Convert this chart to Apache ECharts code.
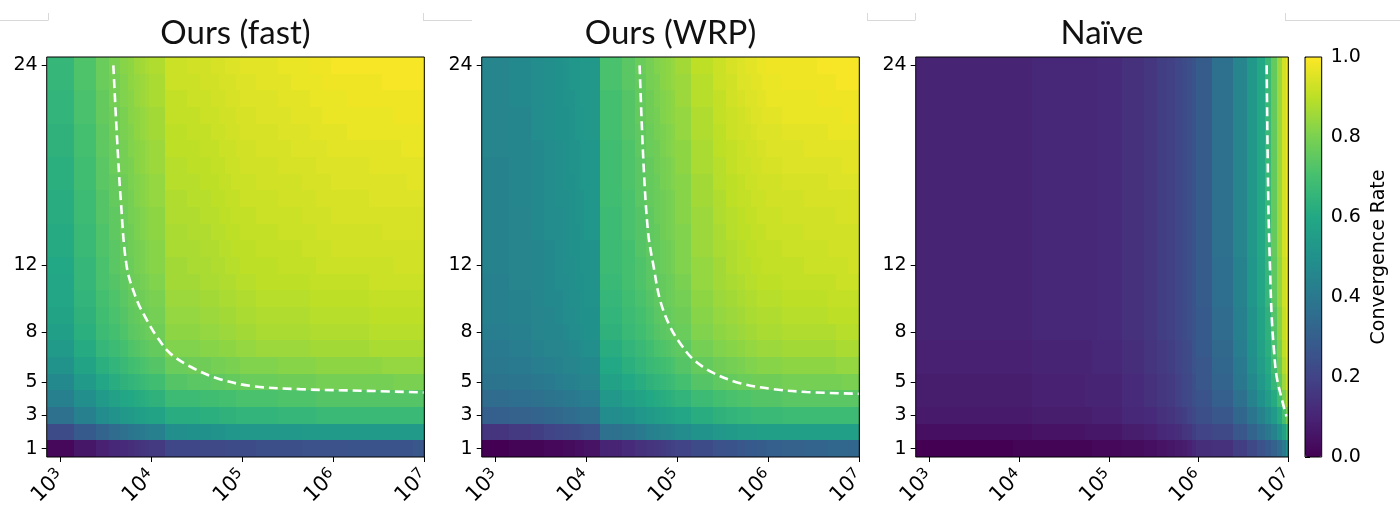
<!DOCTYPE html>
<html>
<head>
<meta charset="utf-8">
<script src="https://cdn.jsdelivr.net/npm/echarts@6/dist/echarts.min.js"></script>
<style>
html,body{margin:0;padding:0;background:#fff;}
#chart{width:1400px;height:517px;}
</style>
</head>
<body>
<div id="chart"></div>
<script>
// ---------------- data ----------------
const TITLES = ['Ours (fast)', 'Ours (WRP)', 'Naïve'];
const SAMPLES = [1e3,2e3,3e3,4e3,5e3,6e3,7e3,8e3,9e3,1e4,
  2e4,3e4,4e4,5e4,6e4,7e4,8e4,9e4,1e5,
  2e5,3e5,4e5,5e5,6e5,7e5,8e5,9e5,1e6,
  2e6,3e6,4e6,5e6,6e6,7e6,8e6,9e6,1e7];
const Y_TICKS = [1, 3, 5, 8, 12, 24];
const X_TICK_EXP = [3, 4, 5, 6, 7];
const CBAR_NAME = 'Convergence Rate';

// convergence rate in percent; rows listed from row 1 (bottom) to row 24 (top)
const RATE_FAST = [
[2,6,9,11,12,13,14,15,16,17, 21,21,22,22,22,23,23,23,23, 24,24,24,25,25,25,25,25,25, 26,26,26,26,26,26,27,27,27],
[23,28,32,35,37,39,40,41,42,43, 49,50,50,51,51,52,52,52,53, 53,53,53,54,54,54,54,54,54, 54,54,54,54,54,54,54,54,54],
[37,43,48,51,53,54,55,56,57,58, 62,62,63,63,64,64,64,65,65, 65,66,66,66,66,67,67,67,67, 67,67,67,67,67,67,67,67,67],
[43,49,54,57,59,60,61,62,63,64, 68,68,69,69,70,70,70,71,71, 71,72,72,72,72,73,73,73,73, 73,73,73,73,73,73,73,73,73],
[47,54,59,62,64,65,66,67,68,69, 73,74,74,75,75,76,76,76,77, 77,78,78,78,78,79,79,79,79, 79,79,79,80,80,80,80,80,80],
[51,58,63,65,67,69,70,71,72,73, 77,78,78,79,79,80,80,80,81, 81,82,82,82,82,83,83,83,83, 83,83,84,84,84,84,84,84,84],
[54,61,66,68,70,72,73,74,75,76, 81,81,82,82,83,83,83,84,84, 85,85,85,85,86,86,86,86,86, 86,87,87,87,87,87,87,87,87],
[56,63,68,70,72,74,75,76,77,78, 83,83,84,84,85,85,85,86,86, 87,87,87,87,88,88,88,88,88, 88,89,89,89,89,89,89,89,89],
[58,64,69,71,73,75,76,77,78,79, 84,84,85,85,86,86,86,87,87, 88,88,88,88,89,89,89,89,89, 89,90,90,90,90,90,90,90,90],
[59,65,70,72,74,76,77,78,79,80, 85,85,86,86,87,87,87,88,88, 89,89,89,89,90,90,90,90,90, 90,91,91,91,91,91,91,91,91],
[59,66,71,73,75,77,78,79,80,81, 86,86,87,87,88,88,88,89,89, 90,90,90,90,91,91,91,91,91, 91,92,92,92,92,92,92,92,92],
[60,66,71,74,76,77,79,80,81,82, 86,87,87,88,88,89,89,89,90, 90,91,91,91,91,92,92,92,92, 92,92,92,93,93,93,93,93,93],
[61,67,72,74,76,78,79,80,81,82, 87,87,88,88,89,89,90,90,90, 91,91,91,92,92,92,92,92,93, 93,93,93,93,93,93,93,93,93],
[61,67,72,75,77,78,80,81,82,83, 87,88,88,89,89,90,90,90,91, 91,92,92,92,92,93,93,93,93, 93,93,94,94,94,94,94,94,94],
[62,68,73,75,77,79,80,81,82,83, 88,88,89,89,90,90,91,91,91, 92,92,92,93,93,93,93,93,94, 94,94,94,94,94,94,94,94,94],
[62,68,73,76,78,79,81,82,83,84, 88,89,89,90,90,91,91,91,92, 92,93,93,93,93,94,94,94,94, 94,95,95,95,95,95,95,95,95],
[63,69,74,76,78,80,81,82,83,84, 89,89,90,90,91,91,92,92,92, 93,93,93,94,94,94,94,94,95, 95,95,95,95,95,96,96,96,96],
[63,69,74,77,79,80,82,83,84,85, 89,90,90,91,91,92,92,92,93, 93,94,94,94,94,95,95,95,95, 95,96,96,96,96,96,96,96,96],
[64,70,75,77,79,81,82,83,84,85, 90,90,91,91,92,92,92,93,93, 94,94,95,95,95,95,95,96,96, 96,96,96,96,97,97,97,97,97],
[64,70,75,78,80,81,83,84,85,86, 90,91,91,92,92,93,93,93,94, 94,95,95,95,96,96,96,96,96, 97,97,97,97,97,97,97,97,97],
[65,71,76,78,80,82,83,84,85,86, 91,91,92,92,93,93,93,94,94, 95,95,96,96,96,96,97,97,97, 97,97,97,98,98,98,98,98,98],
[65,71,76,79,81,82,84,85,86,87, 91,92,92,93,93,94,94,94,95, 95,96,96,96,97,97,97,97,97, 98,98,98,98,98,98,98,98,98],
[66,72,77,79,81,83,84,85,86,87, 92,92,93,93,94,94,94,95,95, 96,96,97,97,97,97,98,98,98, 98,98,99,99,99,99,99,99,99],
[66,72,77,80,82,83,85,86,87,88, 92,93,93,94,94,95,95,95,96, 96,97,97,97,98,98,98,98,99, 99,99,99,99,99,99,99,99,99]
];

const RATE_WRP = [
[0,1,1,2,2,3,3,4,4,5, 10,12,14,15,16,17,18,19,20, 23,25,26,27,28,28,29,29,30, 31,32,32,33,33,33,33,33,33],
[15,17,18,20,21,22,23,23,24,25, 37,39,41,43,44,45,46,47,48, 51,53,54,55,55,55,56,56,56, 56,56,56,56,56,56,56,56,56],
[30,31,32,33,34,35,35,36,37,37, 48,50,52,54,55,56,57,58,59, 62,64,65,66,66,67,67,67,67, 68,68,68,68,68,68,68,68,68],
[35,36,37,38,39,40,40,41,42,42, 53,56,58,60,61,62,63,64,65, 68,70,71,72,72,73,73,73,73, 74,74,74,74,74,74,74,74,74],
[38,39,40,41,42,43,43,44,45,45, 57,60,62,64,65,66,67,68,70, 73,75,76,77,77,78,78,78,78, 79,79,79,79,79,80,80,80,80],
[40,41,42,43,44,45,45,46,47,47, 60,63,65,67,68,69,70,71,73, 76,78,79,80,81,81,82,82,82, 83,83,83,83,84,84,84,84,84],
[41,42,44,45,45,46,47,47,48,49, 62,65,67,69,71,72,73,74,75, 79,81,82,83,84,84,85,85,85, 86,86,86,86,87,87,87,87,87],
[42,43,45,46,46,47,48,48,49,50, 64,67,69,71,73,74,75,76,77, 81,83,84,85,86,86,87,87,87, 88,88,88,88,89,89,89,89,89],
[43,44,45,46,47,48,48,49,50,50, 65,68,70,72,74,75,76,77,78, 82,84,85,86,87,87,88,88,88, 89,89,89,90,90,90,90,90,90],
[43,44,46,47,47,48,49,49,50,51, 66,69,71,73,75,76,77,78,79, 83,85,86,87,88,88,89,89,89, 90,90,90,91,91,91,91,91,91],
[43,45,46,47,48,48,49,50,50,51, 67,70,72,74,75,76,77,78,80, 84,86,87,88,89,89,90,90,90, 91,91,91,91,92,92,92,92,92],
[44,45,46,47,48,49,49,50,51,51, 68,70,72,74,76,77,78,79,81, 84,86,88,89,89,90,90,91,91, 91,92,92,92,92,92,93,93,93],
[44,45,46,47,48,49,50,50,51,51, 68,70,73,75,76,77,78,79,81, 85,87,88,89,90,90,91,91,91, 92,92,92,93,93,93,93,93,93],
[44,45,47,48,48,49,50,50,51,52, 68,71,73,75,76,78,79,80,81, 85,87,89,90,90,91,91,91,92, 92,93,93,93,93,93,93,93,93],
[44,45,47,48,48,49,50,51,51,52, 68,71,73,75,77,78,79,80,82, 85,88,89,90,91,91,92,92,92, 93,93,93,93,94,94,94,94,94],
[44,46,47,48,49,49,50,51,51,52, 69,71,74,76,77,78,79,80,82, 86,88,90,91,91,92,92,92,93, 93,94,94,94,94,94,94,94,94],
[44,46,47,48,49,50,50,51,52,52, 69,72,74,76,77,79,80,81,82, 86,89,90,91,92,92,93,93,93, 94,94,94,95,95,95,95,95,95],
[44,46,47,48,49,50,51,51,52,52, 69,72,74,76,78,79,80,81,83, 87,89,91,92,92,93,93,94,94, 95,95,95,95,95,96,96,96,96],
[45,46,47,48,49,50,51,51,52,52, 69,72,75,77,78,80,81,82,83, 87,90,91,92,93,93,94,94,95, 95,96,96,96,96,96,96,96,96],
[45,46,48,49,50,50,51,52,52,53, 70,73,75,77,79,80,81,82,84, 88,90,92,93,93,94,95,95,95, 96,96,96,97,97,97,97,97,97],
[45,46,48,49,50,50,51,52,52,53, 70,73,76,78,79,81,82,83,84, 88,91,92,93,94,95,95,96,96, 97,97,97,97,97,98,98,98,98],
[45,47,48,49,50,51,51,52,53,53, 70,73,76,78,80,81,82,83,85, 89,91,93,94,95,95,96,96,97, 97,97,98,98,98,98,98,98,98],
[45,47,48,49,50,51,52,52,53,53, 71,74,76,79,80,82,83,84,85, 89,92,93,95,95,96,96,97,97, 98,98,98,98,99,99,99,99,99],
[45,47,48,49,50,51,52,52,53,53, 71,74,77,79,81,82,83,84,86, 90,92,94,95,96,96,97,97,98, 98,98,99,99,99,99,99,99,99]
];

const RATE_NAIVE = [
[0,0,0,0,0,0,0,0,1,1, 1,1,1,1,1,2,2,2,2, 3,4,5,6,7,8,9,11,13, 14,18,22,25,28,31,35,41,50],
[4,4,4,4,4,4,4,4,4,4, 5,5,5,5,6,6,6,6,6, 8,9,11,12,13,15,16,18,20, 22,27,32,36,40,44,50,57,66],
[7,7,7,7,7,7,7,7,7,7, 8,8,8,8,8,9,9,9,9, 11,12,14,15,17,18,20,22,24, 27,33,39,44,49,54,61,70,80],
[8,8,8,8,8,8,8,8,8,8, 9,9,9,9,10,10,10,10,10, 12,14,16,17,19,21,22,24,26, 30,37,44,50,55,61,69,79,88],
[8,8,8,8,8,8,8,8,8,8, 9,9,9,9,10,10,10,10,10, 12,14,16,17,19,21,22,24,27, 32,40,47,53,59,66,75,85,92],
[9,9,9,9,9,9,9,9,9,9, 10,10,10,10,10,11,11,11,11, 13,15,17,18,20,22,23,25,27, 33,41,49,55,61,69,78,88,94],
[9,9,9,9,9,9,9,9,9,9, 10,10,10,10,10,11,11,11,11, 13,15,17,18,20,22,23,25,28, 34,42,50,57,63,71,80,90,95],
[10,10,10,10,10,10,10,10,10,10, 11,11,11,11,11,11,12,12,12, 14,16,18,19,21,23,24,26,28, 35,43,51,58,64,73,82,91,96],
[10,10,10,10,10,10,10,10,10,10, 11,11,11,11,11,11,12,12,12, 14,16,18,19,21,23,24,26,28, 35,43,51,58,64,73,82,91,96],
[10,10,10,10,10,10,10,10,10,10, 11,11,11,11,11,11,12,12,12, 14,16,18,19,21,23,24,26,29, 36,44,52,59,66,75,84,92,96],
[10,10,10,10,10,10,10,10,10,10, 11,11,11,11,11,11,12,12,12, 14,16,18,19,21,23,24,26,29, 36,44,52,59,66,75,84,92,96],
[10,10,10,10,10,10,10,10,10,10, 11,11,11,11,11,11,12,12,12, 14,16,18,19,21,23,24,26,29, 36,44,52,59,66,75,84,92,96],
[10,10,10,10,10,10,10,10,10,10, 11,11,11,11,11,11,12,12,12, 14,16,18,19,21,23,24,26,29, 37,45,53,60,67,76,85,93,97],
[10,10,10,10,10,10,10,10,10,10, 11,11,11,11,11,11,12,12,12, 14,16,18,19,21,23,24,26,29, 37,45,53,60,67,76,85,93,97],
[10,10,10,10,10,10,10,10,10,10, 11,11,11,11,11,11,12,12,12, 14,16,18,19,21,23,24,26,29, 37,45,53,60,67,76,85,93,97],
[10,10,10,10,10,10,10,10,10,10, 11,11,11,11,11,11,12,12,12, 14,16,18,19,21,23,24,26,29, 37,45,53,60,67,76,85,93,97],
[10,10,10,10,10,10,10,10,10,10, 11,11,11,11,11,11,12,12,12, 14,16,18,19,21,23,24,26,29, 37,45,53,60,67,76,85,93,97],
[10,10,10,10,10,10,10,10,10,10, 11,11,11,11,11,11,12,12,12, 14,16,18,19,21,23,24,26,29, 37,45,53,60,67,76,85,93,97],
[10,10,10,10,10,10,10,10,10,10, 11,11,11,11,11,11,12,12,12, 14,16,18,19,21,23,24,26,29, 37,45,53,60,67,76,85,93,97],
[10,10,10,10,10,10,10,10,10,10, 11,11,11,11,11,11,12,12,12, 14,16,18,19,21,23,24,26,29, 37,45,53,60,67,76,85,93,97],
[10,10,10,10,10,10,10,10,10,10, 11,11,11,11,11,11,12,12,12, 14,16,18,19,21,23,24,26,29, 37,45,53,60,67,76,85,93,97],
[10,10,10,10,10,10,10,10,10,10, 11,11,11,11,11,11,12,12,12, 14,16,18,19,21,23,24,26,29, 37,45,53,60,67,76,85,93,97],
[10,10,10,10,10,10,10,10,10,10, 11,11,11,11,11,11,12,12,12, 14,16,18,19,21,23,24,26,29, 37,45,53,60,67,76,85,93,97],
[10,10,10,10,10,10,10,10,10,10, 11,11,11,11,11,11,12,12,12, 14,16,18,19,21,23,24,26,29, 37,45,53,60,67,76,85,93,97]
];

// dashed threshold curves: [log10(samples), row]
const CURVE_FAST = [[3.582,24],[3.62,19.9],[3.664,15.9],[3.73,11.9],[3.84,9.92],[3.95,8.72],[4.06,7.72],[4.205,6.73],[4.425,5.93],[4.72,5.23],[5.085,4.77],[5.63,4.57],[6.37,4.47],[7.0,4.37]];
const CURVE_WRP = [[4.585,24],[4.63,17.9],[4.68,13.9],[4.74,11.9],[4.81,9.92],[4.92,8.32],[5.03,7.33],[5.18,6.33],[5.40,5.53],[5.69,4.93],[6.06,4.57],[6.42,4.40],[7.0,4.29]];
const CURVE_NAIVE = [[6.759,24],[6.777,15.9],[6.796,11.9],[6.815,8.92],[6.84,6.93],[6.87,5.33],[6.93,3.93],[6.98,2.93]];

const VIRIDIS = ['#440154','#482475','#414487','#355f8d','#2a788e','#21918c','#22a884','#44bf70','#7ad151','#bddf26','#fde725'];

// ---------------- build ----------------
const LOGX = SAMPLES.map(v => Math.log10(v));
const EDGES = [];
EDGES.push(LOGX[0] - (LOGX[1] - LOGX[0]) / 2);
for (let i = 0; i < LOGX.length - 1; i++) EDGES.push((LOGX[i] + LOGX[i + 1]) / 2);
EDGES.push(LOGX[LOGX.length - 1] + (LOGX[LOGX.length - 1] - LOGX[LOGX.length - 2]) / 2);
const XMIN = EDGES[0];

function cells(rate) {
  const out = [];
  rate.forEach((row, r) => {
    row.forEach((v, i) => out.push([EDGES[i], EDGES[i + 1], r + 1, v / 100]));
  });
  return out;
}
const RATES = [RATE_FAST, RATE_WRP, RATE_NAIVE];
const CURVES = [CURVE_FAST, CURVE_WRP, CURVE_NAIVE];

const FONT = 'DejaVu Sans';
const FS = 19;
const GRIDS = [
  {left: 46.7, top: 57, width: 377.6, height: 400},
  {left: 481.7, top: 57, width: 377.6, height: 400},
  {left: 915.7, top: 57, width: 372.6, height: 400}
];

const grid = GRIDS.map(g => Object.assign({show: true, borderColor: '#000', borderWidth: 1, backgroundColor: 'rgba(0,0,0,0)', z: 6}, g));
grid.push({left: 1305, top: 57, width: 16.7, height: 400, show: true, borderColor: '#000', borderWidth: 1, backgroundColor: 'rgba(0,0,0,0)', z: 6});

const xAxis = GRIDS.map((g, i) => ({
  gridIndex: i, type: 'value', min: XMIN, max: 7, z: 7,
  axisLine: {show: false}, splitLine: {show: false},
  axisTick: {show: true, customValues: X_TICK_EXP, length: 5, lineStyle: {color: '#000', width: 1}},
  axisLabel: {customValues: X_TICK_EXP, rotate: 45, margin: 16, fontSize: 21, color: '#000', fontFamily: FONT,
    formatter: v => '{n|10}{s|' + Math.round(v) + '}',
    rich: {
      n: {fontSize: 21, fontFamily: FONT, color: '#000', lineHeight: 22, verticalAlign: 'bottom'},
      s: {fontSize: 15, fontFamily: FONT, color: '#000', lineHeight: 14, verticalAlign: 'top'}
    }}
}));
xAxis.push({gridIndex: 3, type: 'value', min: 0, max: 1, show: false});

const yAxis = GRIDS.map((g, i) => ({
  gridIndex: i, type: 'value', min: 0.5, max: 24.5,
  axisLine: {show: false}, splitLine: {show: false},
  axisTick: {show: true, customValues: Y_TICKS, length: 5, lineStyle: {color: '#000', width: 1}},
  axisLabel: {customValues: Y_TICKS, margin: 9, fontSize: FS, color: '#000', fontFamily: FONT}
}));
yAxis.push({
  gridIndex: 3, type: 'value', position: 'right', min: 0, max: 1, interval: 0.2,
  axisLine: {show: false}, splitLine: {show: false},
  axisTick: {show: true, length: 5, lineStyle: {color: '#000', width: 1}},
  axisLabel: {margin: 9, fontSize: FS, color: '#000', fontFamily: FONT, formatter: v => v.toFixed(1)},
  name: CBAR_NAME, nameLocation: 'middle', nameRotate: 90, nameGap: 48,
  nameTextStyle: {fontSize: FS, color: '#000', fontFamily: FONT}
});

const series = [];
RATES.forEach((rate, i) => {
  series.push({
    type: 'custom', xAxisIndex: i, yAxisIndex: i, clip: true, z: 1,
    encode: {x: [0, 1], y: 2},
    data: cells(rate),
    renderItem: function (params, api) {
      const a = api.coord([api.value(0), api.value(2) + 0.5]);
      const b = api.coord([api.value(1), api.value(2) - 0.5]);
      const x0 = Math.round(a[0]), x1 = Math.round(b[0]);
      const y0 = Math.round(a[1]), y1 = Math.round(b[1]);
      return {type: 'rect', shape: {x: x0, y: y0, width: x1 - x0, height: y1 - y0},
        style: {fill: api.visual('color')}};
    },
    silent: true
  });
});
CURVES.forEach((curve, i) => {
  series.push({
    type: 'line', xAxisIndex: i, yAxisIndex: i, data: curve, symbol: 'none', smooth: 0.35,
    clip: true, z: 5, silent: true,
    lineStyle: {color: '#fff', width: 2.6, type: [9, 5]}
  });
});

const title = TITLES.map((t, i) => ({
  text: t, left: GRIDS[i].left + GRIDS[i].width / 2, top: 17, textAlign: 'center', padding: 0,
  textStyle: {fontSize: 33, fontWeight: 'normal', color: '#111', fontFamily: 'Lato'}
}));

const grayLine = (x1, y1, x2, y2) => ({type: 'line', shape: {x1, y1, x2, y2}, style: {stroke: '#d9d9d9', lineWidth: 1}, silent: true});

const option = {
  animation: false,
  backgroundColor: '#fff',
  title,
  grid, xAxis, yAxis, series,
  visualMap: {
    type: 'continuous', min: 0, max: 1, dimension: 3, seriesIndex: [0, 1, 2],
    inRange: {color: VIRIDIS}, calculable: false, hoverLink: false,
    left: 1305, top: 57, itemWidth: 16.7, itemHeight: 400, padding: 0, z: 4, show: true
  },
  graphic: [
    grayLine(0, 20.5, 48, 20.5), grayLine(48.5, 13, 48.5, 20.5),
    grayLine(423, 20.5, 472, 20.5), grayLine(423.5, 13, 423.5, 20.5),
    grayLine(867, 20.5, 915, 20.5), grayLine(867.5, 13, 867.5, 20.5), grayLine(915.5, 13, 915.5, 20.5),
    grayLine(1285, 20.5, 1400, 20.5), grayLine(1285.5, 13, 1285.5, 20.5)
  ]
};

const chart = echarts.init(document.getElementById('chart'), null, {renderer: 'canvas'});
chart.setOption(option);
</script>
</body>
</html>
